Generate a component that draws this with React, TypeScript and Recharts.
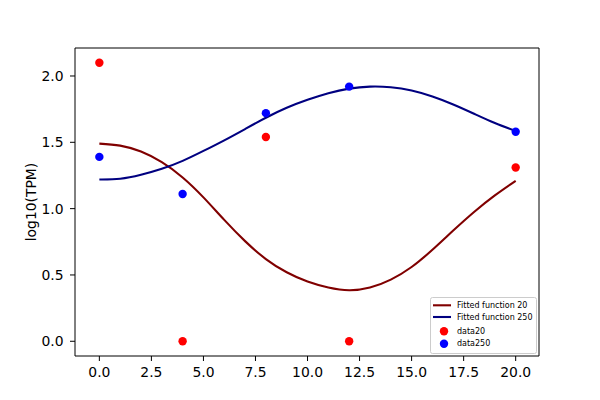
import React from 'react';
import { ComposedChart, Line, Scatter, XAxis, YAxis, Legend } from 'recharts';

const sampleX = [0, 4, 8, 12, 20];
const data20 = [2.1, 0.0, 1.54, 0.0, 1.31];
const data250 = [1.39, 1.11, 1.72, 1.92, 1.58];

const fitX = [0, 1, 2, 3, 4, 5, 6, 7, 8, 9, 10, 11, 12, 13, 14, 15, 16, 17, 18, 19, 20];
const fit20 = [1.49, 1.475, 1.43, 1.35, 1.235, 1.085, 0.915, 0.755, 0.62, 0.52, 0.45, 0.405, 0.385, 0.405, 0.465, 0.56, 0.69, 0.835, 0.975, 1.1, 1.21];
const fit250 = [1.22, 1.225, 1.255, 1.3, 1.36, 1.435, 1.515, 1.6, 1.685, 1.76, 1.82, 1.87, 1.905, 1.92, 1.915, 1.89, 1.845, 1.785, 1.715, 1.645, 1.585];

const xTicks = [0, 2.5, 5, 7.5, 10, 12.5, 15, 17.5, 20];
const yTicks = [0, 0.5, 1, 1.5, 2];

const legendItems = [
  { label: 'Fitted function 20', color: '#800000', kind: 'line' },
  { label: 'Fitted function 250', color: '#000080', kind: 'line' },
  { label: 'data20', color: '#ff0000', kind: 'dot' },
  { label: 'data250', color: '#0000ff', kind: 'dot' },
];

const FONT = '"DejaVu Sans", sans-serif';
const X_DOMAIN = [-1.17, 21.12];
const Y_DOMAIN = [-0.111, 2.211];

const line20 = fitX.map((x, i) => ({ x, y: fit20[i] }));
const line250 = fitX.map((x, i) => ({ x, y: fit250[i] }));
const pts20 = sampleX.map((x, i) => ({ x, y: data20[i] }));
const pts250 = sampleX.map((x, i) => ({ x, y: data250[i] }));

const LegendBox = () => {
  const rowsY = [8.3, 20, 34.3, 46.7];
  return (
    <svg width={107} height={57} style={{ display: 'block' }}>
      <rect x={0.5} y={0.5} width={106} height={56} rx={2} fill="#fff" fillOpacity={0.8} stroke="#cccccc" />
      {legendItems.map((it, i) => (
        <g key={it.label}>
          {it.kind === 'line' ? (
            <line x1={3} x2={21} y1={rowsY[i]} y2={rowsY[i]} stroke={it.color} strokeWidth={2.1} />
          ) : (
            <circle cx={14} cy={rowsY[i]} r={4.2} fill={it.color} />
          )}
          <text x={27} y={rowsY[i]} dominantBaseline="central" fontSize={8} fontFamily={FONT} fill="#000">
            {it.label}
          </text>
        </g>
      ))}
    </svg>
  );
};

const dot = (color: string) => (props: any) => (
  <circle cx={props.cx} cy={props.cy} r={4.2} fill={color} />
);

export default function App() {
  return (
    <div style={{ position: 'absolute', left: 0, top: 0, width: 600, height: 400, background: '#fff' }}>
      <ComposedChart width={600} height={400} margin={{ top: 47, right: 60, bottom: 0, left: 0 }}>
        <XAxis
          xAxisId="b"
          type="number"
          dataKey="x"
          domain={X_DOMAIN}
          ticks={xTicks}
          tickFormatter={(v: number) => v.toFixed(1)}
          height={44}
          tickSize={5}
          tickMargin={6}
          axisLine={{ stroke: '#000', strokeWidth: 1 }}
          tickLine={{ stroke: '#000', strokeWidth: 1 }}
          tick={{ fill: '#000', fontSize: 13.9, fontFamily: FONT }}
          allowDataOverflow
        />
        <XAxis
          xAxisId="t"
          orientation="top"
          type="number"
          domain={X_DOMAIN}
          height={1}
          tick={false}
          tickLine={false}
          axisLine={{ stroke: '#000', strokeWidth: 1 }}
          allowDataOverflow
        />
        <YAxis
          yAxisId="l"
          type="number"
          domain={Y_DOMAIN}
          ticks={yTicks}
          tickFormatter={(v: number) => v.toFixed(1)}
          width={75}
          tickSize={5}
          tickMargin={6.5}
          axisLine={{ stroke: '#000', strokeWidth: 1 }}
          tickLine={{ stroke: '#000', strokeWidth: 1 }}
          tick={{ fill: '#000', fontSize: 13.9, fontFamily: FONT }}
          allowDataOverflow
          label={{
            value: 'log10(TPM)',
            angle: -90,
            position: 'insideLeft',
            offset: 0,
            style: { fill: '#000', fontSize: 13.9, fontFamily: FONT, textAnchor: 'middle' },
            dx: 31,
          }}
        />
        <YAxis
          yAxisId="r"
          orientation="right"
          type="number"
          domain={Y_DOMAIN}
          width={1}
          tick={false}
          tickLine={false}
          axisLine={{ stroke: '#000', strokeWidth: 1 }}
          allowDataOverflow
        />
        <Line
          xAxisId="b"
          yAxisId="l"
          data={line20}
          dataKey="y"
          type="natural"
          stroke="#800000"
          strokeWidth={2.1}
          dot={false}
          activeDot={false}
          isAnimationActive={false}
        />
        <Line
          xAxisId="b"
          yAxisId="l"
          data={line250}
          dataKey="y"
          type="natural"
          stroke="#000080"
          strokeWidth={2.1}
          dot={false}
          activeDot={false}
          isAnimationActive={false}
        />
        <Scatter xAxisId="b" yAxisId="l" data={pts20} dataKey="y" shape={dot('#ff0000')} isAnimationActive={false} />
        <Scatter xAxisId="b" yAxisId="l" data={pts250} dataKey="y" shape={dot('#0000ff')} isAnimationActive={false} />
        <Legend
          layout="horizontal"
          verticalAlign="middle"
          align="center"
          content={() => <LegendBox />}
          wrapperStyle={{ position: 'absolute', left: 430, top: 297, width: 107, height: 57 }}
        />
      </ComposedChart>
    </div>
  );
}
